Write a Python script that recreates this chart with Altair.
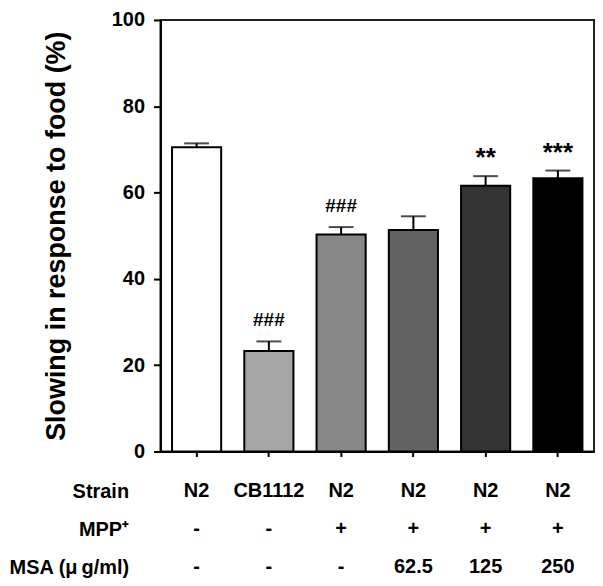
import altair as alt
import pandas as pd

groups = ["g1", "g2", "g3", "g4", "g5", "g6"]
means = [70.5, 23.3, 50.3, 51.3, 61.6, 63.3]
sems = [0.9, 2.2, 1.7, 3.2, 2.2, 1.8]
colors = ["#ffffff", "#a6a6a6", "#878787", "#626262", "#333333", "#000000"]
hash_marks = ["", "###", "###", "", "", ""]
star_marks = ["", "", "", "", "**", "***"]

row_names = ["Strain", "MPP\u207a", "MSA (\u03bc\u2009g/ml)"]
strain = ["N2", "CB1112", "N2", "N2", "N2", "N2"]
mpp = ["-", "-", "+", "+", "+", "+"]
msa = ["-", "-", "-", "62.5", "125", "250"]

FONT = "Liberation Sans"

df = pd.DataFrame({
    "group": groups,
    "mean": means,
    "top": [m + s for m, s in zip(means, sems)],
    "color": colors,
    "hash": hash_marks,
    "star": star_marks,
})

xscale = alt.Scale(domain=groups, paddingInner=0.32, paddingOuter=0.16)
yscale = alt.Scale(domain=[0, 100], nice=False)

base = alt.Chart(df).encode(
    x=alt.X("group:N", scale=xscale, sort=groups,
            axis=alt.Axis(labels=False, title=None, tickSize=5, tickWidth=2,
                          tickColor="black", domainColor="black", domainWidth=2))
)

bars = base.mark_bar(stroke="black", strokeWidth=2).encode(
    y=alt.Y("mean:Q", scale=yscale,
            axis=alt.Axis(values=[0, 20, 40, 60, 80, 100], tickSize=7, tickWidth=2,
                          tickColor="black", domainColor="black", domainWidth=2,
                          labelFontSize=20, labelFont=FONT, labelFontWeight="bold",
                          labelColor="black", labelPadding=9, grid=False,
                          title="Slowing in response to food (%)", titleFont=FONT,
                          titleFontSize=27, titleFontWeight="bold", titleColor="black",
                          titlePadding=41)),
    color=alt.Color("color:N", scale=None),
)

err = base.mark_rule(color="black", strokeWidth=2).encode(
    y="mean:Q", y2="top:Q"
)
caps = base.mark_tick(color="black", thickness=2, size=25).encode(y="top:Q")

hashes = base.mark_text(font=FONT, fontWeight="bold", fontSize=19, color="black",
                        baseline="alphabetic", dy=-15).encode(y="top:Q", text="hash:N")
stars = base.mark_text(font=FONT, fontWeight="bold", fontSize=26, color="black",
                       baseline="alphabetic", dy=-10).encode(y="top:Q", text="star:N")

plot = alt.layer(bars, err, caps, hashes, stars).properties(
    width=435, height=433,
    view=alt.ViewBackground(stroke="#222222", strokeWidth=2),
)

rows = []
for name, vals in zip(row_names, [strain, mpp, msa]):
    for g, v in zip(groups, vals):
        rows.append({"group": g, "row": name, "val": v})
tdf = pd.DataFrame(rows)

table = alt.Chart(tdf).mark_text(font=FONT, fontWeight="bold", fontSize=20,
                                 color="black").encode(
    x=alt.X("group:N", scale=xscale, sort=groups, axis=None),
    y=alt.Y("row:N", sort=row_names, scale=alt.Scale(type="point", padding=0.5),
            axis=alt.Axis(title=None, domain=False, ticks=False, labelFont=FONT,
                          labelFontSize=20, labelFontWeight="bold", labelColor="black",
                          labelAlign="right", labelPadding=32)),
    text="val:N",
).properties(width=435, height=114, view=alt.ViewBackground(stroke=None))

chart = alt.vconcat(plot, table, spacing=10).configure_view(stroke=None).properties(
    padding=0
)

chart.save("out.html", embed_options={"renderer": "svg", "actions": False})
